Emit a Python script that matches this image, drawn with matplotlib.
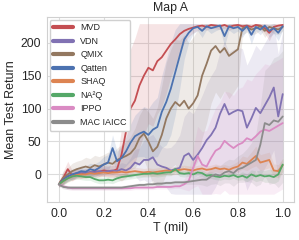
import numpy as np
import matplotlib
matplotlib.use("Agg")
import matplotlib.pyplot as plt
import seaborn as sns

# T in millions of steps (evaluation points)
t_mil = np.linspace(0, 1, 51)

labels = ["MVD", "VDN", "QMIX", "Qatten", "SHAQ", "NA\u00b2Q", "IPPO", "MAC IAICC"]

# mean test return per algorithm
mvd = [-15, -5, 8, -2, 2, 0, 3, 2, 5, 4, 6, 5, 5, 8, 30, 65, 100, 112, 135, 150,
       162, 158, 172, 178, 188, 198, 205, 213, 218, 221, 223, 225, 226, 224, 227, 226, 225, 227, 224, 226,
       227, 225, 226, 224, 227, 226, 222, 215, 224, 226, 227]
vdn = [-15, -8, -3, 0, 2, 3, 2, 4, 3, 5, 4, 5, 6, 5, 8, 6, 10, 18, 15, 22,
       22, 26, 15, 12, 10, 6, 8, 10, 28, 32, 22, 30, 40, 52, 60, 71, 92, 107, 91, 95,
       98, 96, 71, 85, 101, 93, 105, 117, 132, 88, 122]
qmix = [-15, -5, 0, 5, 8, 10, 12, 10, 14, 12, 15, 18, 16, 22, 25, 28, 32, 40, 55, 62,
        50, 35, 42, 60, 85, 100, 110, 104, 112, 100, 108, 120, 150, 168, 188, 195, 185, 192, 180, 185,
        190, 222, 224, 220, 222, 225, 218, 224, 222, 220, 224]
qatten = [-15, -8, -3, 0, 2, 5, 4, 8, 6, 10, 15, 18, 40, 20, 25, 35, 48, 58, 62, 65,
          60, 68, 72, 95, 110, 130, 155, 180, 205, 215, 222, 224, 218, 225, 222, 224, 226, 210, 225, 222,
          224, 218, 225, 212, 224, 220, 226, 218, 222, 215, 225]
shaq = [-15, -10, -6, -3, -1, 0, 0, 2, 1, 2, 3, 2, 3, 3, 4, 3, 4, 5, 4, 3,
        4, 3, 4, 5, 6, 5, 6, 7, 8, 7, 6, 8, 9, 7, 8, 10, 8, 9, 7, 10,
        12, 18, 16, 22, 28, 18, 20, 22, 6, 5, 14]
na2q = [-15, -10, -6, -3, -2, -3, -4, -4, -7, -9, -9, -8, -9, -6, -4, -3, -2, -1, 0, 1,
        1, 2, 1, 2, 3, 3, 8, 2, 1, 2, 0, 3, 2, -2, -1, -3, -4, -2, -3, -1,
        -4, -2, -5, 0, -3, -1, -3, -2, -4, 0, 15]
ippo = [-15, -18, -20, -21, -21, -21, -21, -21, -21, -21, -21, -21, -21, -21, -21, -21, -21, -20, -20, -20,
        -20, -20, -19, -19, -19, -19, -18, -18, -15, -10, 10, 28, 15, 12, 25, 36, 40, 51, 45, 40,
        45, 48, 55, 52, 58, 65, 68, 66, 70, 74, 78]
mac_iaicc = [-15, -19, -20, -20, -20, -20, -20, -20, -20, -20, -20, -20, -20, -20, -20, -19, -18, -17, -16, -16,
             -15, -15, -14, -14, -13, -13, -12, -12, -12, -11, -10, -9, -8, -8, -3, 0, -2, 3, 5, 2,
             8, 10, 14, 18, 22, 45, 78, 75, 82, 80, 88]

# spread of the shaded band around each mean
mvd_sd = [4, 10, 12, 8, 6, 6, 6, 6, 7, 7, 8, 8, 10, 15, 40, 70, 90, 95, 95, 90,
          85, 85, 80, 75, 65, 50, 40, 28, 18, 12, 8, 6, 5, 5, 5, 5, 5, 5, 5, 5,
          5, 5, 5, 5, 5, 5, 8, 12, 6, 5, 5]
vdn_sd = [4, 6, 6, 6, 6, 6, 6, 6, 6, 7, 7, 7, 8, 8, 10, 10, 15, 20, 25, 30,
          35, 35, 35, 30, 30, 35, 40, 50, 60, 65, 70, 75, 80, 85, 90, 90, 95, 95, 95, 95,
          95, 95, 95, 95, 95, 95, 95, 95, 95, 95, 95]
qmix_sd = [4, 10, 10, 12, 12, 12, 14, 14, 15, 15, 15, 16, 16, 18, 20, 22, 25, 30, 35, 40,
           45, 50, 60, 75, 85, 90, 95, 100, 100, 100, 100, 100, 95, 90, 80, 70, 70, 65, 65, 60,
           55, 10, 8, 8, 8, 6, 10, 6, 8, 8, 6]
qatten_sd = [4, 8, 8, 8, 8, 8, 9, 9, 10, 10, 12, 12, 20, 15, 18, 22, 28, 32, 35, 38,
             40, 42, 45, 55, 65, 70, 65, 50, 30, 15, 8, 6, 10, 5, 8, 6, 5, 15, 6, 8,
             6, 10, 6, 14, 6, 8, 5, 10, 8, 12, 6]
shaq_sd = [4] + [6] * 39 + [8, 10, 10, 12, 15, 12, 12, 12, 10, 10, 10]
na2q_sd = [4] + [5] * 40 + [6, 6, 7, 8, 8, 9, 10, 10, 10, 10]
ippo_sd = [3] * 28 + [8, 15, 30, 45, 50, 55, 60, 65, 70, 75, 80, 80, 85, 85, 90, 90, 95, 95, 100, 100,
                      100, 100, 100]
mac_iaicc_sd = [3] * 29 + [4, 5, 6, 8, 10, 12, 14, 15, 16, 18, 20, 20, 22, 25, 30, 40, 60, 80, 90, 95,
                           100, 100]

colors = ["#C44E52", "#8172B3", "#937860", "#4C72B0", "#DD8452", "#55A868", "#DA8BC3", "#8C8C8C"]

means = [mvd, vdn, qmix, qatten, shaq, na2q, ippo, mac_iaicc]
spreads = [mvd_sd, vdn_sd, qmix_sd, qatten_sd, shaq_sd, na2q_sd, ippo_sd, mac_iaicc_sd]

sns.set_style("whitegrid")
plt.rcParams["font.family"] = ["Liberation Sans", "DejaVu Sans"]
plt.rcParams["axes.edgecolor"] = "#d0d0d0"
plt.rcParams["grid.color"] = "#dcdcdc"

fig = plt.figure(figsize=(2.99, 2.40), dpi=100)
ax = fig.add_axes([0.157, 0.158, 0.826, 0.771])

for label, m, s, c in zip(labels, means, spreads, colors):
    m = np.array(m, dtype=float)
    s = np.array(s, dtype=float)
    lo = np.clip(m - s, -30, 229)
    hi = np.clip(m + s, -30, 229)
    ax.fill_between(t_mil, lo, hi, color=c, alpha=0.15, linewidth=0)
    ax.plot(t_mil, m, color=c, linewidth=1.3, label=label)

ax.set_xlim(-0.053, 1.05)
ax.set_ylim(-42, 239)
ax.set_xticks([0.0, 0.2, 0.4, 0.6, 0.8, 1.0])
ax.set_yticks([0, 50, 100, 150, 200])
ax.tick_params(labelsize=8.7, length=0, pad=4, colors="#262626")
ax.set_xlabel("T (mil)", fontsize=9, labelpad=2)
ax.set_ylabel("Mean Test Return", fontsize=9, labelpad=3)
ax.set_title("Map A", fontsize=8.8, pad=4)

leg = ax.legend(loc="upper left", fontsize=6.5, handlelength=2.2, labelspacing=0.5,
                borderpad=0.4, handletextpad=0.8, frameon=True, framealpha=1,
                edgecolor="#d0d0d0", borderaxespad=0.3)
for line in leg.get_lines():
    line.set_linewidth(3)

fig.savefig("out.png", dpi=100)
